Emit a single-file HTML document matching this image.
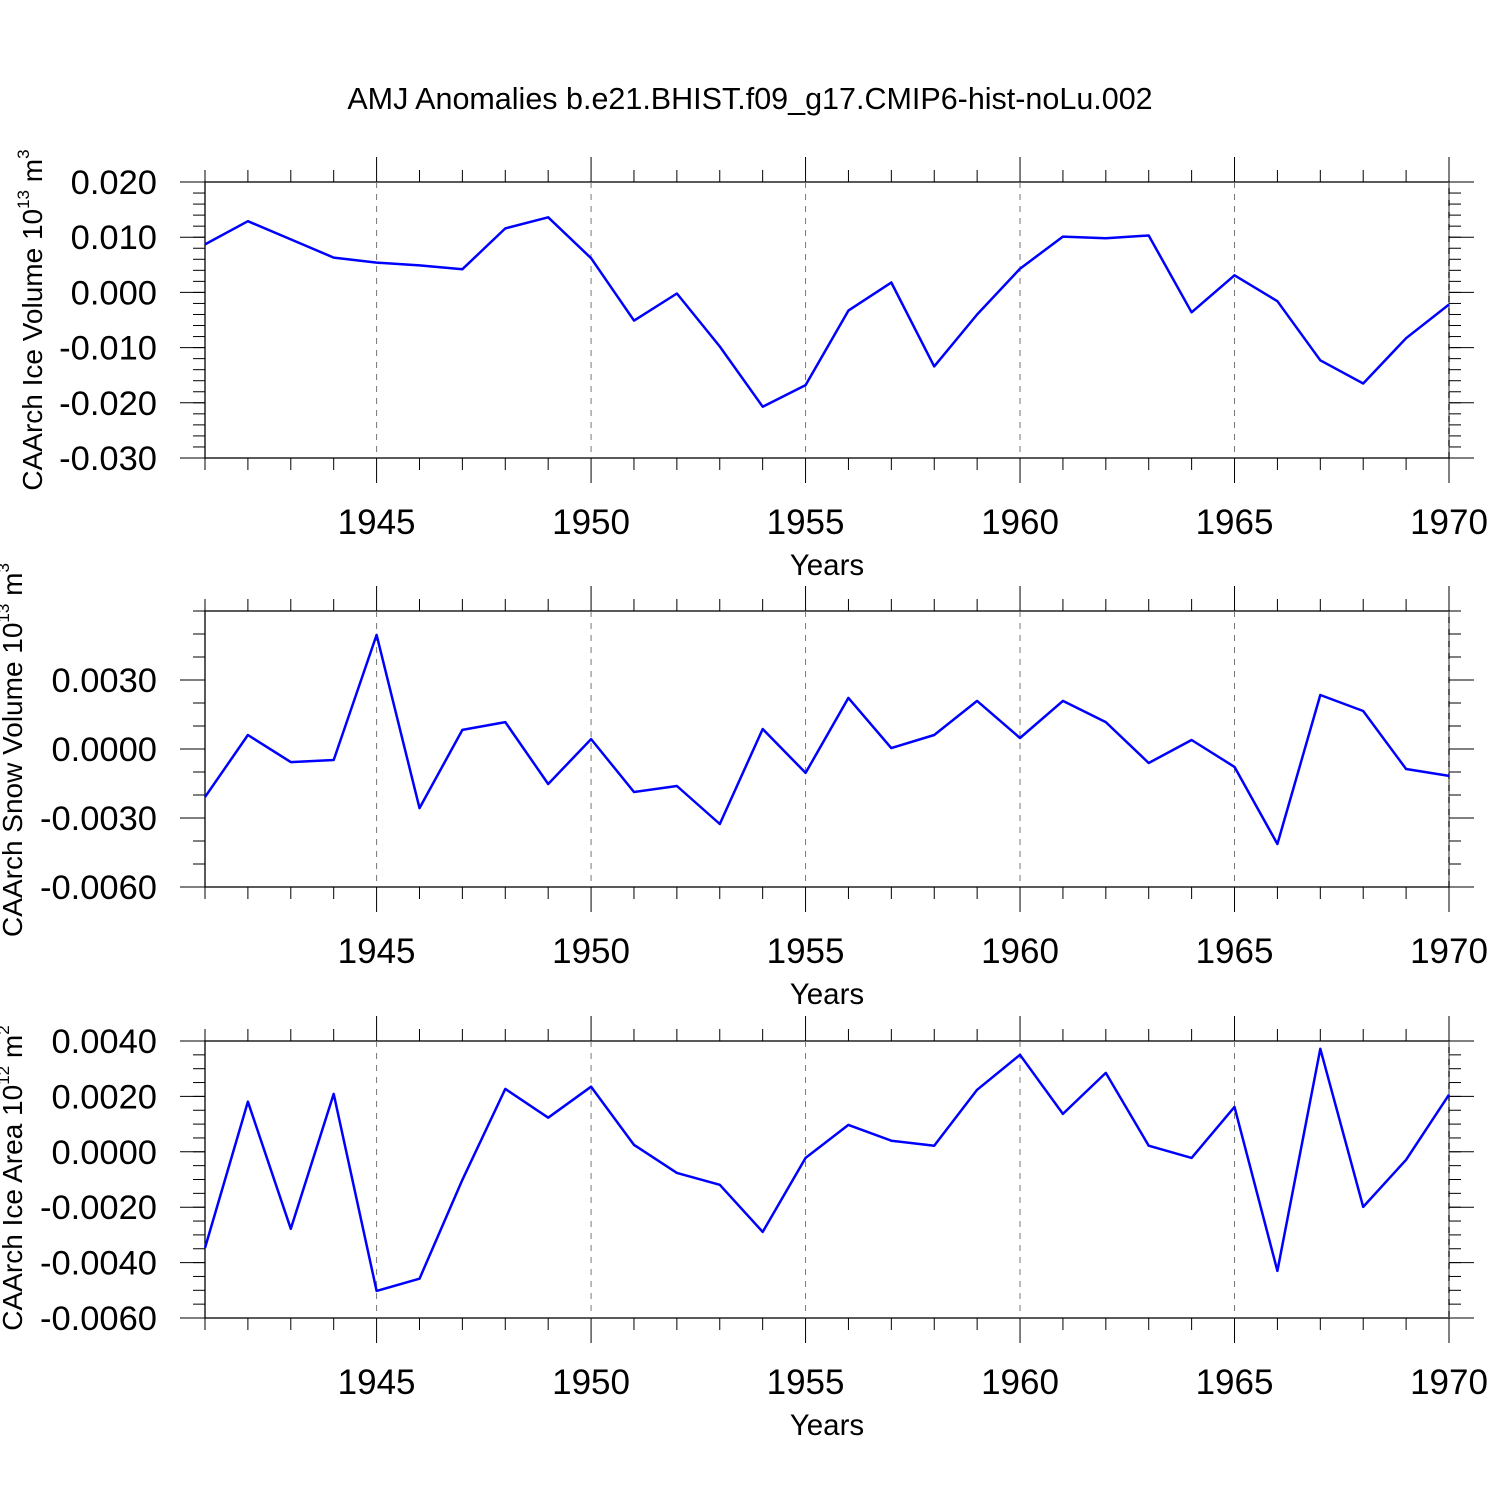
<!DOCTYPE html>
<html><head><meta charset="utf-8"><style>
html,body{margin:0;padding:0;background:#fff;}
svg{display:block;font-family:"Liberation Sans",sans-serif;}
</style></head><body>
<svg id="chart" width="1500" height="1500" viewBox="0 0 1500 1500">
<text x="750" y="109" text-anchor="middle" font-size="30.5">AMJ Anomalies b.e21.BHIST.f09_g17.CMIP6-hist-noLu.002</text>
</svg>
<script>
const years = [1941,1942,1943,1944,1945,1946,1947,1948,1949,1950,1951,1952,1953,1954,1955,1956,1957,1958,1959,1960,1961,1962,1963,1964,1965,1966,1967,1968,1969,1970];
const iceVolume = [0.0087,0.0129,0.0096,0.0063,0.0054,0.0049,0.0042,0.0116,0.0136,0.0062,-0.0051,-0.0002,-0.0098,-0.0207,-0.0168,-0.0033,0.0018,-0.0134,-0.0040,0.0043,0.0101,0.0098,0.0103,-0.0036,0.0031,-0.0016,-0.0123,-0.0165,-0.0083,-0.0022];
const snowVolume = [-0.00209,0.00061,-0.00057,-0.00048,0.00496,-0.00257,0.00083,0.00117,-0.00152,0.00043,-0.00187,-0.00161,-0.00326,0.00087,-0.00104,0.00222,0.00004,0.00061,0.00209,0.00048,0.00209,0.00117,-0.00061,0.00039,-0.00078,-0.00413,0.00235,0.00165,-0.00087,-0.00117];
const iceArea = [-0.00347,0.00181,-0.00278,0.00209,-0.00502,-0.00458,-0.00101,0.00227,0.00123,0.00235,0.00025,-0.00076,-0.00119,-0.00289,-0.00022,0.00097,0.00040,0.00022,0.00224,0.0035,0.00137,0.00285,0.00022,-0.00022,0.00162,-0.0043,0.00372,-0.00199,-0.00029,0.00206];
const xTickYears = [1945,1950,1955,1960,1965,1970];
const iceVolTicks = [0.02,0.01,0,-0.01,-0.02,-0.03];
const iceVolLabels = ["0.020","0.010","0.000","-0.010","-0.020","-0.030"];
const snowTicks = [0.003,0,-0.003,-0.006];
const snowLabels = ["0.0030","0.0000","-0.0030","-0.0060"];
const areaTicks = [0.004,0.002,0,-0.002,-0.004,-0.006];
const areaLabels = ["0.0040","0.0020","0.0000","-0.0020","-0.0040","-0.0060"];

const svg = document.getElementById('chart');
const NS = 'http://www.w3.org/2000/svg';
function mk(tag, attrs){const e=document.createElementNS(NS,tag);for(const k in attrs)e.setAttribute(k,attrs[k]);svg.appendChild(e);return e;}
const X0=205,X1=1449,YR0=1941,YR1=1970;
function xs(yr){return X0+(yr-YR0)*(X1-X0)/(YR1-YR0);}

function panel(p){
  const ys=v=>p.top+(p.vmax-v)*(p.bot-p.top)/(p.vmax-p.vmin);
  const fr=mk('rect',{x:X0,y:p.top,width:X1-X0,height:p.bot-p.top,fill:'none',stroke:'#000','stroke-width':1.3});
  
  
  xTickYears.forEach(yr=>{
    const g=mk('line',{x1:xs(yr),x2:xs(yr),y1:p.top,y2:p.bot,stroke:'#777','stroke-width':1,'stroke-dasharray':'6,6'});
    
    
  });
  years.forEach(yr=>{
    const major=yr%5===0;const L=major?25:12;const x=xs(yr);
    mk('line',{x1:x,x2:x,y1:p.top-L,y2:p.top,stroke:'#000','stroke-width':1});
    mk('line',{x1:x,x2:x,y1:p.bot,y2:p.bot+L,stroke:'#000','stroke-width':1});
  });
  xTickYears.forEach(yr=>{
    const t=mk('text',{x:xs(yr),y:p.bot+76,'text-anchor':'middle','font-size':35});
    t.textContent=yr;
    
    
  });
  const xt=mk('text',{x:827,y:p.bot+117,'text-anchor':'middle','font-size':29.5});
  xt.textContent='Years';
  
  
  const n=Math.round((p.vmax-p.vmin)/p.minor);
  for(let i=0;i<=n;i++){
    const v=p.vmin+i*p.minor;const y=ys(v);
    mk('line',{x1:X0-12,x2:X0,y1:y,y2:y,stroke:'#000','stroke-width':1});
    mk('line',{x1:X1,x2:X1+12,y1:y,y2:y,stroke:'#000','stroke-width':1});
  }
  p.ticks.forEach((v,i)=>{
    const y=ys(v);
    mk('line',{x1:X0-25,x2:X0,y1:y,y2:y,stroke:'#000','stroke-width':1});
    mk('line',{x1:X1,x2:X1+25,y1:y,y2:y,stroke:'#000','stroke-width':1});
    const t=mk('text',{x:157,y:y+12,'text-anchor':'end','font-size':34.5});
    t.textContent=p.labels[i];
    
    
  });
  const yt=mk('text',{transform:'translate('+p.tx+','+p.ty+') rotate(-90)','text-anchor':'middle','font-size':28});
  yt.innerHTML=p.title+' 10<tspan font-size="17" dy="-13">'+p.exp+'</tspan><tspan dy="13"> m</tspan><tspan font-size="17" dy="-13">'+p.pow+'</tspan>';
  
  
  const pts=p.data.map((v,i)=>xs(years[i]).toFixed(1)+','+ys(v).toFixed(1)).join(' ');
  const pl=mk('polyline',{points:pts,fill:'none',stroke:'#0000ff','stroke-width':2.5,'stroke-linejoin':'round'});
  
  
}
panel({name:'ice-volume',top:182,bot:458,vmax:0.02,vmin:-0.03,minor:0.002,ticks:iceVolTicks,labels:iceVolLabels,data:iceVolume,title:'CAArch Ice Volume',exp:'13',pow:'3',tx:42,ty:320});
panel({name:'snow-volume',top:611,bot:887,vmax:0.006,vmin:-0.006,minor:0.001,ticks:snowTicks,labels:snowLabels,data:snowVolume,title:'CAArch Snow Volume',exp:'13',pow:'3',tx:22,ty:750});
panel({name:'ice-area',top:1041,bot:1318,vmax:0.004,vmin:-0.006,minor:0.0005,ticks:areaTicks,labels:areaLabels,data:iceArea,title:'CAArch Ice Area',exp:'12',pow:'2',tx:22,ty:1178});
</script>
</body></html>
